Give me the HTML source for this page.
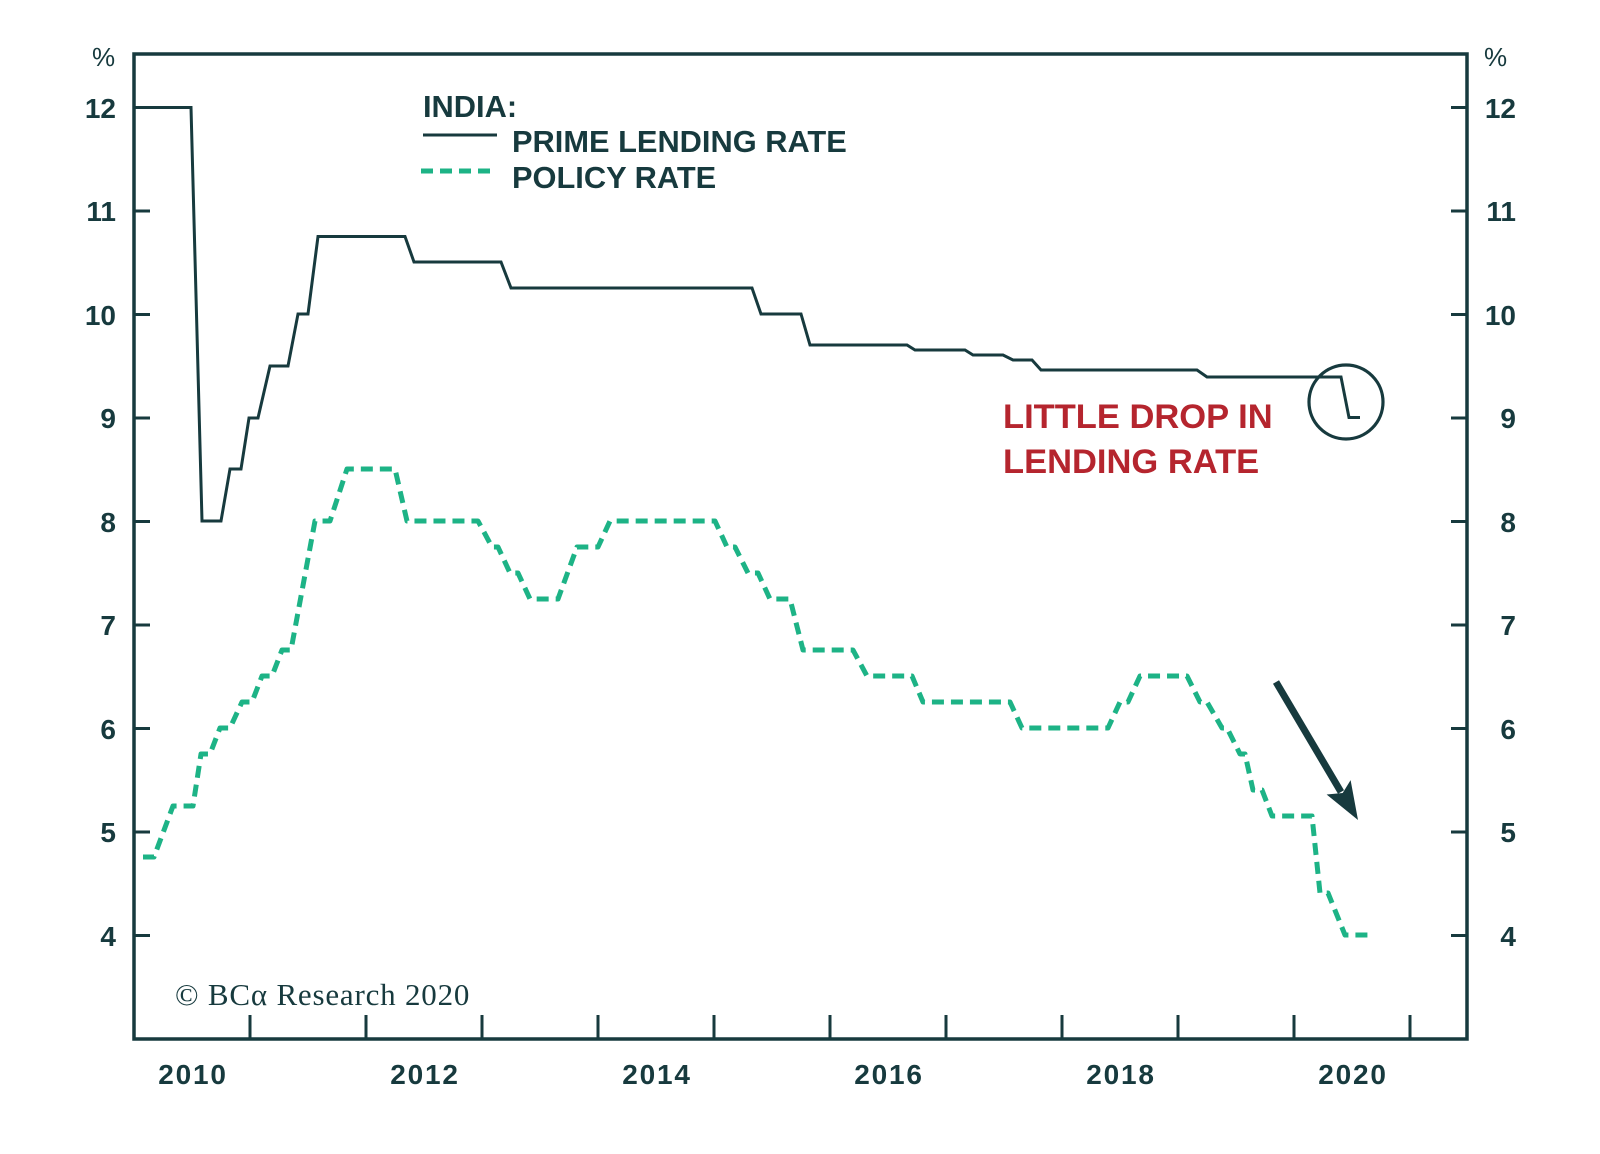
<!DOCTYPE html>
<html>
<head>
<meta charset="utf-8">
<style>
  html,body{margin:0;padding:0;background:#ffffff;}
  svg{display:block;}
  .tk{font-family:"Liberation Sans",sans-serif;font-weight:bold;font-size:28px;fill:#173a3e;}
  .xl{font-family:"Liberation Sans",sans-serif;font-weight:bold;font-size:28px;fill:#173a3e;letter-spacing:1.8px;}
  .lg{font-family:"Liberation Sans",sans-serif;font-weight:bold;font-size:30.8px;fill:#173a3e;}
  .pc{font-family:"Liberation Sans",sans-serif;font-size:26px;fill:#173a3e;}
  .red{font-family:"Liberation Sans",sans-serif;font-weight:bold;font-size:34.5px;fill:#b5252e;}
  .cr{font-family:"Liberation Serif",serif;font-size:31px;fill:#173a3e;letter-spacing:0.8px;}
</style>
</head>
<body>
<svg width="1600" height="1154" viewBox="0 0 1600 1154" xmlns="http://www.w3.org/2000/svg">
  <rect width="1600" height="1154" fill="#ffffff"/>

  <!-- frame -->
  <g stroke="#173a3e" stroke-width="3.5" fill="none" stroke-linecap="square">
    <path d="M134,54 L1467,54 L1467,1039 L134,1039 Z"/>
  </g>

  <!-- y ticks -->
  <g stroke="#173a3e" stroke-width="3" fill="none">
    <path d="M134,107.5 H150 M134,211 H150 M134,314.5 H150 M134,418 H150 M134,521.5 H150 M134,625 H150 M134,728.5 H150 M134,832 H150 M134,935.5 H150"/>
    <path d="M1451,107.5 H1467 M1451,211 H1467 M1451,314.5 H1467 M1451,418 H1467 M1451,521.5 H1467 M1451,625 H1467 M1451,728.5 H1467 M1451,832 H1467 M1451,935.5 H1467"/>
    <!-- x ticks -->
    <path d="M250,1015 V1039 M366,1015 V1039 M482,1015 V1039 M598,1015 V1039 M714,1015 V1039 M830,1015 V1039 M946,1015 V1039 M1062,1015 V1039 M1178,1015 V1039 M1294,1015 V1039 M1410,1015 V1039"/>
  </g>

  <!-- left labels -->
  <g class="tk" text-anchor="end">
    <text x="116" y="118">12</text>
    <text x="116" y="221">11</text>
    <text x="116" y="325">10</text>
    <text x="116" y="428">9</text>
    <text x="116" y="532">8</text>
    <text x="116" y="635">7</text>
    <text x="116" y="739">6</text>
    <text x="116" y="842">5</text>
    <text x="116" y="946">4</text>
  </g>
  <!-- right labels -->
  <g class="tk" text-anchor="end">
    <text x="1516" y="118">12</text>
    <text x="1516" y="221">11</text>
    <text x="1516" y="325">10</text>
    <text x="1516" y="428">9</text>
    <text x="1516" y="532">8</text>
    <text x="1516" y="635">7</text>
    <text x="1516" y="739">6</text>
    <text x="1516" y="842">5</text>
    <text x="1516" y="946">4</text>
  </g>
  <text class="pc" x="92" y="66">%</text>
  <text class="pc" x="1484" y="66">%</text>

  <!-- x labels -->
  <g class="xl" text-anchor="middle">
    <text x="193" y="1084">2010</text>
    <text x="425" y="1084">2012</text>
    <text x="657" y="1084">2014</text>
    <text x="889" y="1084">2016</text>
    <text x="1121" y="1084">2018</text>
    <text x="1353" y="1084">2020</text>
  </g>

  <!-- copyright -->
  <text class="cr" x="175" y="1005">© BCα Research 2020</text>

  <!-- legend -->
  <text class="lg" x="423" y="117">INDIA:</text>
  <line x1="423" y1="135" x2="497" y2="135" stroke="#173a3e" stroke-width="3"/>
  <text class="lg" x="512" y="152">PRIME LENDING RATE</text>
  <line x1="421" y1="171" x2="493" y2="171" stroke="#1db386" stroke-width="5" stroke-dasharray="12 7"/>
  <text class="lg" x="512" y="188">POLICY RATE</text>

  <!-- prime lending rate -->
  <path fill="none" stroke="#173a3e" stroke-width="3" stroke-linejoin="miter"
    d="M134,107.5 L191,107.5 L202,521 L221,521 L230,469 L241,469 L249,418 L258,418 L270,366 L288,366 L298,314 L308,314 L318,236.5 L405,236.5 L414,262 L501,262 L511,288 L752,288 L761,314 L801,314 L810,345 L907,345 L915,350 L965,350 L973,355 L1003,355 L1013,360 L1032,360 L1041,370 L1197,370 L1207,377 L1341,377 L1349,417.5 L1360,417.5"/>

  <!-- policy rate -->
  <path fill="none" stroke="#1db386" stroke-width="5" stroke-dasharray="12 7" stroke-linejoin="round"
    d="M143,857 L154,857 L173,806 L193,806 L201,754 L210,754 L220,728 L230,728 L242,702 L252,702 L262,676 L272,676 L282,650 L291,650 L315,521 L330,521 L347,469 L395,469 L407,521 L478,521 L492,547 L498,547 L510,573 L518,573 L530,599 L558,599 L577,547 L598,547 L610,521 L715,521 L727,547 L735,547 L748,573 L758,573 L770,599 L790,599 L803,650 L853,650 L867,676 L912,676 L923,702 L1010,702 L1022,728 L1108,728 L1120,702 L1128,702 L1140,676 L1187,676 L1200,702 L1207,702 L1222,728 L1227,728 L1240,754 L1245,754 L1253,790 L1262,790 L1272,816 L1312,816 L1320,893 L1328,893 L1345,935 L1370,935"/>

  <!-- annotation -->
  <text class="red" x="1003" y="428">LITTLE DROP IN</text>
  <text class="red" x="1003" y="473">LENDING RATE</text>
  <circle cx="1346" cy="402" r="37" fill="none" stroke="#173a3e" stroke-width="3.2"/>

  <!-- arrow -->
  <line x1="1276" y1="682" x2="1341" y2="792" stroke="#173a3e" stroke-width="7"/>
  <polygon points="1358,820 1326.6,794.5 1342.7,793 1350.6,780.1" fill="#173a3e"/>
</svg>
</body>
</html>
